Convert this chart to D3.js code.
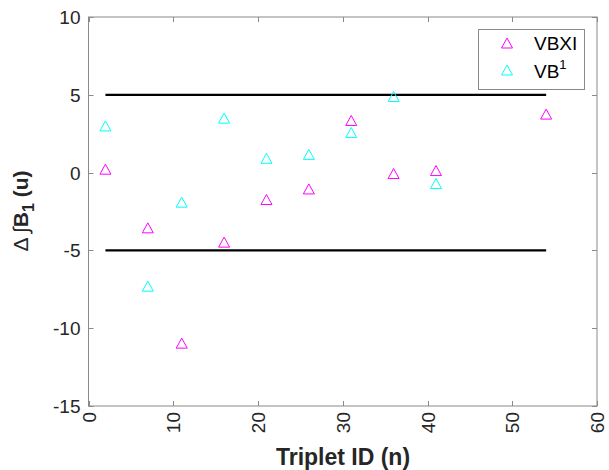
<!DOCTYPE html>
<html><head><meta charset="utf-8">
<script src="https://cdn.jsdelivr.net/npm/d3@7"></script>
<style>body{margin:0;background:#fff}svg{display:block}text{font-family:"Liberation Sans",Arial,sans-serif}</style>
</head><body>
<svg id="c" width="609" height="470"></svg>
<script>
const xTicks = [0,10,20,30,40,50,60];
const yTicks = [-15,-10,-5,0,5,10];
const vbxiX = [2,7,11,16,21,26,31,36,41,54];
const vbxiY = [0.22,-3.55,-10.96,-4.47,-1.73,-1.05,3.35,-0.06,0.13,3.76];
const vb1X = [2,7,11,16,21,26,31,36,41];
const vb1Y = [3.0,-7.3,-1.9,3.5,0.92,1.17,2.58,4.89,-0.7];
const limitLines = [5,-5];
const limitRange = [2,54];

const svg = d3.select("#c");
const L=88.5, R=597, T=17, B=406;
const x = d3.scaleLinear().domain([0,60]).range([L,R]);
const y = d3.scaleLinear().domain([-15,10]).range([B,T]);
const axisCol="#8a8a8a", txtCol="#262626";

svg.append("rect").attr("x",L).attr("y",T).attr("width",R-L).attr("height",B-T)
  .attr("fill","none").attr("stroke",axisCol).attr("stroke-width",1);

xTicks.forEach(v=>{
  const px=Math.round(x(v))+0.5;
  svg.append("line").attr("x1",px).attr("x2",px).attr("y1",B).attr("y2",B-5).attr("stroke",axisCol);
  svg.append("line").attr("x1",px).attr("x2",px).attr("y1",T).attr("y2",T+5).attr("stroke",axisCol);
  svg.append("text").attr("transform",`translate(${x(v)+7},${B+6}) rotate(-90)`)
    .attr("text-anchor","end").attr("fill",txtCol).attr("font-size",19).text(v);
});
yTicks.forEach(v=>{
  const py=Math.round(y(v))+0.5;
  svg.append("line").attr("x1",L).attr("x2",L+5).attr("y1",py).attr("y2",py).attr("stroke",axisCol);
  svg.append("line").attr("x1",R).attr("x2",R-5).attr("y1",py).attr("y2",py).attr("stroke",axisCol);
  svg.append("text").attr("x",L-8).attr("y",y(v)+7).attr("text-anchor","end")
    .attr("fill",txtCol).attr("font-size",19).text(v);
});

limitLines.forEach(v=>{
  svg.append("line").attr("x1",x(limitRange[0])).attr("x2",x(limitRange[1]))
    .attr("y1",y(v)).attr("y2",y(v)).attr("stroke","#000").attr("stroke-width",2.2);
});

function tpath(cx,cy){
  return `M${cx},${cy-5}L${cx+5.5},${cy+5}L${cx-5.5},${cy+5}Z`;
}
function drawSeries(xs,ys,col){
  svg.append("g").selectAll("path").data(xs).join("path")
    .attr("d",(d,i)=>tpath(x(d),y(ys[i]))).attr("fill","none").attr("stroke",col).attr("stroke-width",1);
}
drawSeries(vb1X,vb1Y,"#00ffff");
drawSeries(vbxiX,vbxiY,"#ff00ff");

svg.append("rect").attr("x",478.5).attr("y",29.5).attr("width",106).attr("height",60)
  .attr("fill","#fff").attr("stroke",axisCol);
svg.append("path").attr("d",tpath(507,43)).attr("fill","none").attr("stroke","#ff00ff");
svg.append("path").attr("d",tpath(507,70)).attr("fill","none").attr("stroke","#00ffff");
svg.append("text").attr("x",534).attr("y",50).attr("font-size",19).attr("fill","#000").text("VBXI");
const t2=svg.append("text").attr("x",534).attr("y",78).attr("font-size",19).attr("fill","#000");
t2.append("tspan").text("VB");
t2.append("tspan").attr("dy",-9).attr("font-size",13).text("1");

svg.append("text").attr("x",343).attr("y",465).attr("text-anchor","middle")
  .attr("font-size",23).attr("font-weight","bold").attr("fill",txtCol).text("Triplet ID (n)");
const yl=svg.append("text").attr("transform",`translate(28,211) rotate(-90)`)
  .attr("text-anchor","middle").attr("font-size",21).attr("fill",txtCol);
yl.append("tspan").text("Δ ∫");
yl.append("tspan").attr("font-weight","bold").text("B");
yl.append("tspan").attr("dy",6).attr("font-size",16).attr("font-weight","bold").text("1");
yl.append("tspan").attr("dy",-6).attr("font-weight","bold").text(" (u)");
</script>
</body></html>
